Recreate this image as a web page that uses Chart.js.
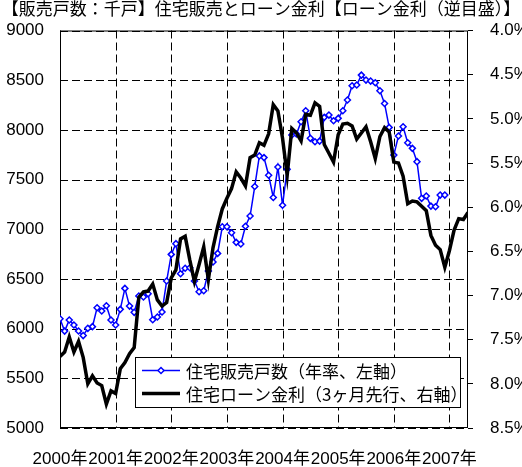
<!DOCTYPE html>
<html lang="ja">
<head>
<meta charset="utf-8">
<title>住宅販売とローン金利</title>
<script src="https://cdn.jsdelivr.net/npm/chart.js@4.4.1/dist/chart.umd.min.js"></script>
<style>
  html, body { margin: 0; padding: 0; background: #fff; }
  #wrap { width: 522px; height: 467px; }
</style>
</head>
<body>
<div id="wrap"><canvas id="chart" width="522" height="467"></canvas></div>
<script>
// 目盛ラベル（各年1月）
const years = ['2000年', '2001年', '2002年', '2003年', '2004年', '2005年', '2006年', '2007年'];

// 住宅販売戸数（年率、千戸）2000年1月〜2006年12月
const sales = [
  6100, 5975, 6087, 6036, 5976, 5930, 6003, 6020, 6210, 6177, 6230, 6087,
  6036, 6194, 6405, 6227, 6164, 6328, 6318, 6350, 6090, 6117, 6168, 6479,
  6747, 6855, 6552, 6608, 6613, 6479, 6371, 6381, 6580, 6670, 6757, 7025,
  7025, 6965, 6868, 6851, 7030, 7133, 7430, 7738, 7721, 7543, 7320, 7626,
  7241, 7604, 7948, 7958, 8082, 8193, 7915, 7881, 7887, 8126, 8149, 8092,
  8116, 8193, 8300, 8444, 8451, 8551, 8501, 8491, 8474, 8394, 8266, 8025,
  7746, 7938, 8031, 7871, 7814, 7680, 7311, 7334, 7233, 7226, 7344, 7344
];

// 住宅ローン金利（3ヶ月先行、%）2000年1月〜2007年5月
const rate = [
  7.69, 7.64, 7.47, 7.64, 7.52, 7.70, 8.00, 7.91, 7.99, 8.02, 8.23, 8.08,
  8.11, 7.83, 7.76, 7.66, 7.59, 7.02, 6.96, 6.95, 6.87, 7.05, 7.12, 7.08,
  6.80, 6.71, 6.36, 6.33, 6.60, 6.84, 6.65, 6.45, 6.82, 6.46, 6.22, 6.02,
  5.90, 5.79, 5.60, 5.67, 5.76, 5.44, 5.41, 5.27, 5.30, 5.17, 4.84, 4.91,
  5.22, 5.64, 5.11, 5.16, 5.25, 4.95, 4.96, 4.82, 4.86, 5.29, 5.39, 5.49,
  5.18, 5.06, 5.05, 5.08, 5.23, 5.16, 5.09, 5.26, 5.45, 5.20, 5.10, 5.15,
  5.49, 5.50, 5.65, 5.96, 5.93, 5.94, 5.99, 6.04, 6.32, 6.43, 6.48, 6.68,
  6.49, 6.26, 6.13, 6.14, 6.06
];

const seriesNames = ['住宅販売戸数（年率、左軸）', '住宅ローン金利（3ヶ月先行、右軸）'];

const numFont = '"Liberation Sans", "Noto Sans CJK JP", sans-serif';
const jpFont = '"Noto Sans CJK JP", sans-serif';

// 破線の目盛線・枠線・グラフ内の凡例
const frameAndLegend = {
  id: 'frameAndLegend',
  beforeDatasetsDraw(chart) {
    const { ctx, chartArea, scales } = chart;
    ctx.save();
    ctx.strokeStyle = '#000';
    ctx.lineWidth = 1;
    ctx.setLineDash([8, 4]);
    scales.y.ticks.forEach(t => {
      const py = Math.round(scales.y.getPixelForValue(t.value)) + 0.5;
      ctx.beginPath();
      ctx.moveTo(chartArea.left, py);
      ctx.lineTo(chartArea.right, py);
      ctx.stroke();
    });
    scales.x.ticks.forEach(t => {
      const px = Math.round(scales.x.getPixelForValue(t.value)) + 0.5;
      ctx.beginPath();
      ctx.moveTo(px, chartArea.top);
      ctx.lineTo(px, chartArea.bottom);
      ctx.stroke();
    });
    ctx.setLineDash([]);
    ctx.strokeRect(chartArea.left + 0.5, chartArea.top + 0.5,
      chartArea.right - chartArea.left - 1, chartArea.bottom - chartArea.top - 1);
    ctx.restore();
  },
  afterDraw(chart) {
    const { ctx, chartArea } = chart;
    const bx = chartArea.left + 75, by = chartArea.bottom - 71;
    const bw = 325, bh = 50;
    ctx.save();
    ctx.fillStyle = '#fff';
    ctx.fillRect(bx, by, bw, bh);
    ctx.strokeStyle = '#000';
    ctx.lineWidth = 1;
    ctx.strokeRect(bx + 0.5, by + 0.5, bw, bh);

    const ds = chart.data.datasets;
    const rows = [by + 13.5, by + 36.5];
    rows.forEach((ry, i) => {
      ctx.beginPath();
      ctx.strokeStyle = ds[i].borderColor;
      ctx.lineWidth = ds[i].borderWidth;
      ctx.moveTo(bx + 7, ry);
      ctx.lineTo(bx + 45, ry);
      ctx.stroke();
      if (i === 0) {
        const r = ds[0].pointRadius;
        ctx.beginPath();
        ctx.moveTo(bx + 26 - r, ry);
        ctx.lineTo(bx + 26, ry - r);
        ctx.lineTo(bx + 26 + r, ry);
        ctx.lineTo(bx + 26, ry + r);
        ctx.closePath();
        ctx.fillStyle = '#fff';
        ctx.fill();
        ctx.lineWidth = ds[0].pointBorderWidth;
        ctx.stroke();
      }
      ctx.fillStyle = '#000';
      ctx.font = '17px ' + jpFont;
      ctx.textBaseline = 'middle';
      ctx.fillText(seriesNames[i], bx + 51, ry + 1);
    });
    ctx.restore();
  }
};

const lastIndex = rate.length - 1;

new Chart(document.getElementById('chart'), {
  type: 'line',
  data: {
    datasets: [{
      label: seriesNames[0],
      data: sales.map((v, i) => ({ x: i, y: v })),
      yAxisID: 'y',
      borderColor: '#0000ff',
      borderWidth: 1.5,
      pointStyle: 'rectRot',
      pointRadius: 3,
      pointBorderWidth: 1.5,
      pointBackgroundColor: '#fff',
      pointBorderColor: '#0000ff',
      tension: 0,
      order: 1
    }, {
      label: seriesNames[1],
      data: rate.map((v, i) => ({ x: i, y: v })),
      yAxisID: 'y2',
      borderColor: '#000',
      borderWidth: 3.5,
      pointRadius: 0,
      tension: 0,
      order: 0
    }]
  },
  options: {
    responsive: false,
    animation: false,
    layout: { padding: 0 },
    plugins: {
      legend: { display: false },
      tooltip: { enabled: false },
      title: {
        display: true,
        text: '【販売戸数：千戸】住宅販売とローン金利【ローン金利（逆目盛）】',
        color: '#000',
        font: { family: jpFont, size: 17, weight: 'normal', lineHeight: 1 },
        padding: { top: 0, bottom: 13.5 }
      }
    },
    scales: {
      x: {
        type: 'linear',
        min: 0,
        max: lastIndex,
        afterFit(scale) { scale.height = 39; },
        // 各年1月の位置に目盛を置く
        afterBuildTicks(scale) {
          scale.ticks = years.map((_, i) => ({ value: i * 12 }));
        },
        border: { display: false },
        grid: { drawOnChartArea: false, drawTicks: false },
        ticks: {
          autoSkip: false,
          maxRotation: 0,
          padding: 21,
          color: '#000',
          font: { family: numFont, size: 17 },
          callback: v => years[v / 12]
        }
      },
      y: {
        position: 'left',
        min: 5000,
        max: 9000,
        afterFit(scale) { scale.width = 60; },
        border: { display: false },
        grid: { drawOnChartArea: false, drawTicks: false },
        ticks: {
          stepSize: 500,
          padding: 16,
          color: '#000',
          font: { family: numFont, size: 17 },
          callback: v => String(v)
        }
      },
      y2: {
        position: 'right',
        reverse: true,
        min: 4.0,
        max: 8.5,
        afterFit(scale) { scale.width = 54; },
        border: { display: false },
        grid: { drawOnChartArea: false, color: '#000', tickLength: 5 },
        ticks: {
          stepSize: 0.5,
          padding: 17,
          color: '#000',
          font: { family: numFont, size: 17 },
          callback: v => v.toFixed(1) + '%'
        }
      }
    }
  },
  plugins: [frameAndLegend]
});
</script>
</body>
</html>
